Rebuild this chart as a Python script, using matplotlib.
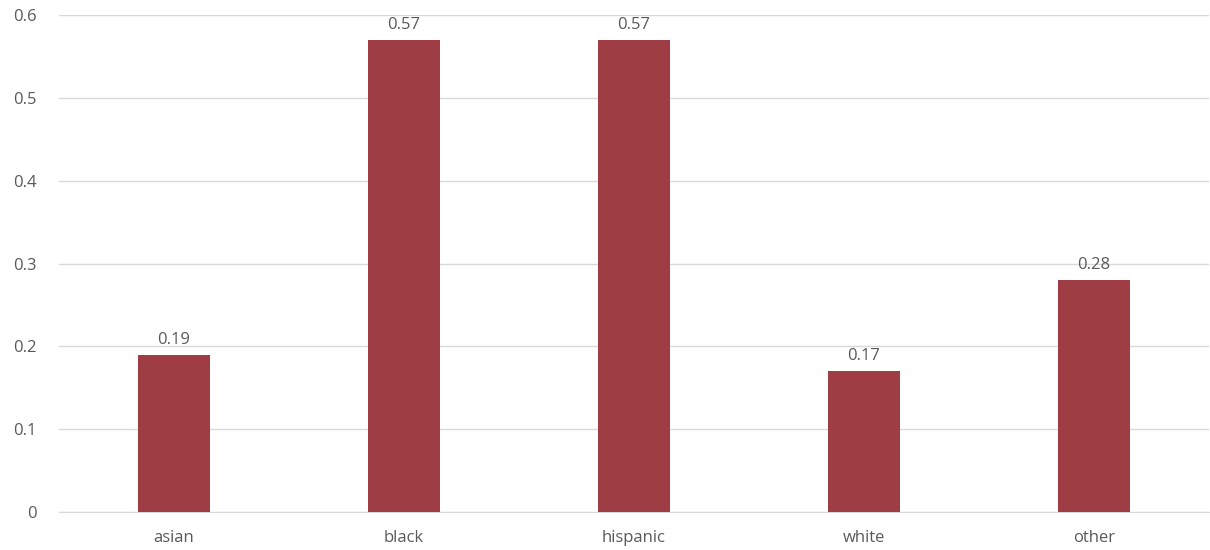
import matplotlib.pyplot as plt

categories = ['asian', 'black', 'hispanic', 'white', 'other']
values = [0.19, 0.57, 0.57, 0.17, 0.28]
yticks = [0, 0.1, 0.2, 0.3, 0.4, 0.5, 0.6]

plt.rcParams['font.family'] = ['Open Sans', 'DejaVu Sans']

fig = plt.figure(figsize=(12.1, 5.5), dpi=100)
ax = fig.add_axes([59 / 1210, 38 / 550, 1150 / 1210, 497 / 550])

x = range(len(categories))
bars = ax.bar(x, values, width=0.31, color='#9e3d44', zorder=3)

for b, v in zip(bars, values):
    ax.annotate(f'{v:.2f}', (b.get_x() + b.get_width() / 2, v),
                xytext=(0, 5), textcoords='offset points',
                ha='center', va='bottom', fontsize=12, color='#595959')

ax.set_xlim(-0.5, len(categories) - 0.5)
ax.set_ylim(0, 0.6)
ax.set_yticks(yticks)
ax.set_yticklabels(['0', '0.1', '0.2', '0.3', '0.4', '0.5', '0.6'])
ax.set_xticks(list(x))
ax.set_xticklabels(categories)
ax.tick_params(axis='both', length=0, labelsize=12, labelcolor='#595959')
ax.tick_params(axis='y', pad=16)
ax.tick_params(axis='x', pad=13)

ax.yaxis.grid(True, color='#d9d9d9', linewidth=1, zorder=0)
for s in ['top', 'right', 'left']:
    ax.spines[s].set_visible(False)
ax.spines['bottom'].set_color('#d9d9d9')

fig.savefig('out.png', dpi=100)
